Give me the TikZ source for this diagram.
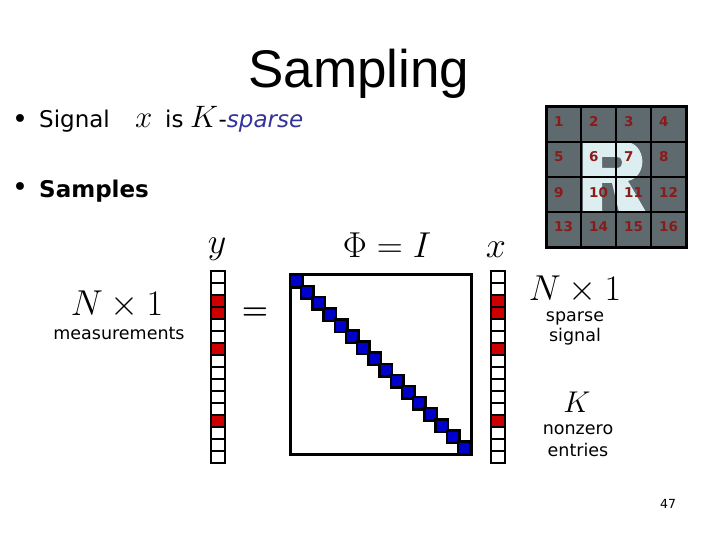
\RequirePackage{fix-cm}
\documentclass[tikz,border=0pt]{standalone}
\usepackage[no-math]{fontspec}
\setmainfont{DejaVu Sans}
\newfontfamily\titlefont{Liberation Sans}
\usetikzlibrary{positioning}

\definecolor{gridgray}{HTML}{5F6A6E}
\definecolor{numred}{HTML}{8B1A1A}
\definecolor{rlight}{HTML}{DDEEF0}
\definecolor{sigred}{HTML}{CC0000}
\definecolor{diagblue}{HTML}{0000CC}
\definecolor{sparseblue}{HTML}{333399}

\tikzset{
  bodytext/.style={font=\fontsize{23}{27}\selectfont, inner sep=0pt, anchor=base west},
  labeltext/.style={font=\fontsize{17.5}{19}\selectfont, inner sep=0pt, anchor=base},
  bigmath/.style={font=\fontsize{36}{36}\selectfont, inner sep=0pt, anchor=base},
  midmath/.style={font=\fontsize{31}{31}\selectfont, inner sep=0pt, anchor=base west},
  cellnum/.style={font=\fontsize{13.5}{13.5}\selectfont\bfseries, text=numred, inner sep=0pt, anchor=base west},
  veccell/.style={draw=black, line width=2.5pt},
  diagcell/.style={draw=black, fill=diagblue, line width=2.5pt},
}

\begin{document}
\begin{tikzpicture}[x=1pt, y=-1pt]
      \useasboundingbox (0,0) rectangle (720,540);

      % title and bullets
      \node[font=\titlefont\fontsize{53}{53}\selectfont, inner sep=0pt, anchor=base]
            (title) at (359,88) {Sampling};
      \node[font=\fontsize{27}{27}\selectfont, inner sep=0pt] (bulA) at (20,122) {\textbullet};
      \node[bodytext] (signal) at (39,128) {Signal};
      \node[midmath] (xsym) at (135,128) {$x$};
      \node[bodytext] (is) at (165,128) {is};
      \node[midmath] (ksym) at (190,128) {$K$};
      \node[bodytext] (sparse) at (ksym.base east) {-\textcolor{sparseblue}{\itshape sparse}};
      \node[font=\fontsize{27}{27}\selectfont, inner sep=0pt] (bulB) at (20,190) {\textbullet};
      \node[bodytext, font=\fontsize{23}{27}\selectfont\bfseries] (samples) at (39,198) {Samples};

      % pixel grid with the R
      \fill[gridgray] (546,107) rectangle (686,247);
      \fill[rlight, even odd rule] (583,212) -- (583,142) -- (625,142)
            .. controls (646,142) and (649,176) .. (628,181) -- (646,212)
            -- (619,212) -- (612,183) -- (602,183) -- (602,212) -- cycle
            (602,157) -- (617,157) .. controls (624,157) and (624,168) .. (617,168)
            -- (602,168) -- cycle;
      \foreach \k in {1,2,3} {
        \draw[line width=2.5pt] ({546+35*\k},107) -- ({546+35*\k},247);
        \draw[line width=2.5pt] (546,{107+35*\k}) -- (686,{107+35*\k});
      }
      \draw[line width=3pt] (546,107) rectangle (686,247);
      \foreach \n in {1,...,16} {
        \pgfmathtruncatemacro{\col}{mod(\n-1,4)}
        \pgfmathtruncatemacro{\row}{(\n-1)/4}
        \node[cellnum] (num\n) at ({554+35*\col},{127+35*\row}) {\n};
      }

      % y = Phi x
      \node[bigmath] (ylab) at (217,254) {$y$};
      \node[bigmath] (phi) at (387,258) {$\Phi = I$};
      \node[bigmath] (xlab) at (496,258) {$x$};
      \node[font=\fontsize{30}{30}\selectfont\boldmath, inner sep=0pt] (eq) at (255,313.5) {$=$};

      \foreach \i/\c in {0/white,1/white,2/sigred,3/sigred,4/white,5/white,6/sigred,7/white,
                         8/white,9/white,10/white,11/white,12/sigred,13/white,14/white,15/white} {
        \draw[veccell, fill=\c] (211,{271+12*\i}) rectangle ++(14,12);
        \draw[veccell, fill=\c] (491,{271+12*\i}) rectangle ++(14,12);
      }

      \draw[line width=3pt] (290,274) rectangle (471,454);
      \foreach \i in {0,...,15}
        \draw[diagcell] ({290+11.2*\i},{275+11.1*\i}) rectangle ++(12.5,12.5);

      % side labels
      \node[bigmath] (nleft) at (117,315) {$N \times 1$};
      \node[labeltext] (meas) at (119,339) {measurements};
      \node[bigmath] (nright) at (575,300) {$N \times 1$};
      \node[labeltext] (sparseA) at (575,321) {sparse};
      \node[labeltext] (sparseB) at (575,341) {signal};
      \node[font=\fontsize{30}{30}\selectfont, inner sep=0pt, anchor=base] (kright) at (577,412) {$K$};
      \node[labeltext] (nonzero) at (578,434) {nonzero};
      \node[labeltext] (entries) at (578,456) {entries};

      \node[font=\fontsize{12.5}{12.5}\selectfont, inner sep=0pt] (pnum) at (668,504) {47};
\end{tikzpicture}
\end{document}
